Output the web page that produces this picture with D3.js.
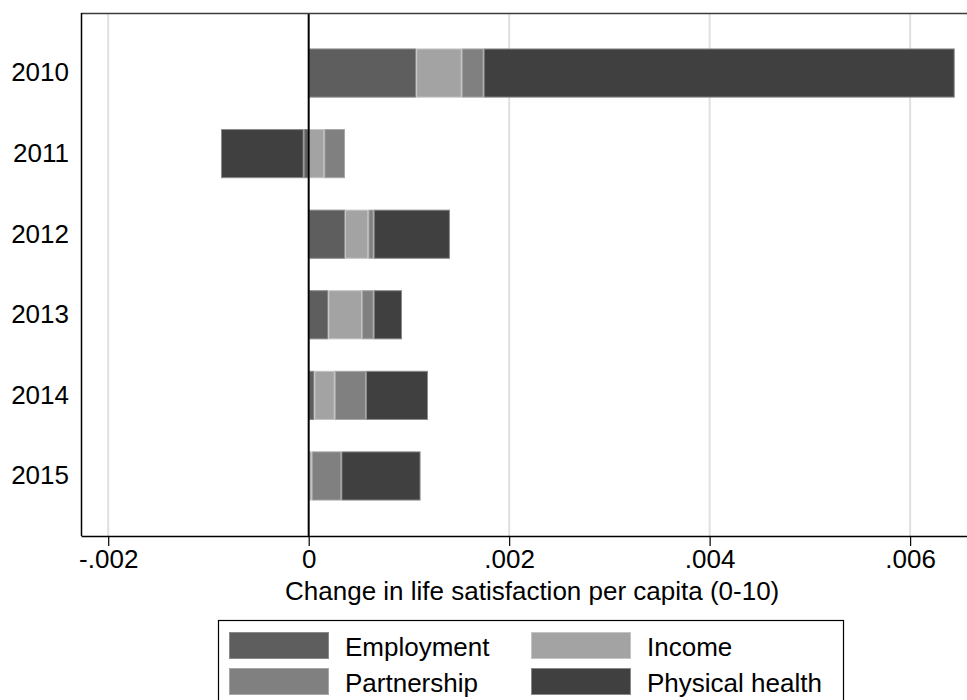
<!DOCTYPE html>
<html>
<head>
<meta charset="utf-8">
<script src="https://cdn.jsdelivr.net/npm/d3@7/dist/d3.min.js"></script>
<style>
  html, body { margin: 0; padding: 0; background: #fff; }
  svg { display: block; font-family: "Liberation Sans", Arial, sans-serif; }
</style>
</head>
<body>
<svg id="chart" width="967" height="700"></svg>
<script>
// Years shown on the vertical axis
const years = ["2010", "2011", "2012", "2013", "2014", "2015"];
// Domains stacked within each bar
const domains = ["Employment", "Income", "Partnership", "Physical health"];
// Contribution of each domain to the yearly change
const employment     = [0.001073, -0.000050, 0.000362, 0.000196, 0.000057, -0.000008];
const income         = [0.000453,  0.000156, 0.000233, 0.000336, 0.000203,  0.000030];
const partnership    = [0.000219,  0.000206, 0.000053, 0.000116, 0.000312,  0.000296];
const physicalHealth = [0.004700, -0.000825, 0.000761, 0.000283, 0.000618,  0.000790];
// Tick values and labels of the horizontal axis
const xTicks = [-0.002, 0, 0.002, 0.004, 0.006];
const xTickLabels = ["-.002", "0", ".002", ".004", ".006"];
const xTitle = "Change in life satisfaction per capita (0-10)";

const colors = ["#5e5e5e", "#a3a3a3", "#808080", "#404040"];
const strokes = ["#8a8a8a", "#c4c4c4", "#a6a6a6", "#8a8a8a"];

const rows = years.map((yr, i) => ({
  year: yr,
  "Employment": employment[i],
  "Income": income[i],
  "Partnership": partnership[i],
  "Physical health": physicalHealth[i]
}));

const svg = d3.select("#chart");
const plotLeft = 81, plotRight = 967, plotTop = 13, plotBottom = 536;
const font = "'Liberation Sans', Arial, sans-serif";

const x = d3.scaleLinear()
  .domain([-0.0022715, 0.0065675])
  .range([plotLeft, plotRight]);

const y = d3.scaleBand()
  .domain(years)
  .range([plotTop, plotBottom])
  .paddingInner(0.39)
  .paddingOuter(0.44);

// Vertical grid lines
svg.append("g")
  .selectAll("line")
  .data(xTicks.filter(d => d !== 0))
  .join("line")
  .attr("x1", d => x(d)).attr("x2", d => x(d))
  .attr("y1", plotTop).attr("y2", plotBottom)
  .attr("stroke", "#e0e0e0")
  .attr("stroke-width", 2);

// Stacked bars: positive parts to the right of zero, negative parts to the left
const series = d3.stack()
  .keys(domains)
  .offset(d3.stackOffsetDiverging)(rows);

svg.append("g")
  .selectAll("g")
  .data(series)
  .join("g")
  .attr("fill", (d, i) => colors[i])
  .attr("stroke", (d, i) => strokes[i])
  .attr("stroke-width", 1)
  .selectAll("rect")
  .data(d => d)
  .join("rect")
  .attr("x", d => x(Math.min(d[0], d[1])) + 0.5)
  .attr("width", d => Math.max(0, Math.abs(x(d[1]) - x(d[0])) - 1))
  .attr("y", d => y(d.data.year) + 0.5)
  .attr("height", y.bandwidth() - 1);

// Zero reference line
svg.append("line")
  .attr("x1", x(0)).attr("x2", x(0))
  .attr("y1", plotTop).attr("y2", plotBottom)
  .attr("stroke", "#000")
  .attr("stroke-width", 2);

// Plot frame: top edge
svg.append("line")
  .attr("x1", plotLeft).attr("x2", plotRight)
  .attr("y1", plotTop + 0.5).attr("y2", plotTop + 0.5)
  .attr("stroke", "#3c3c3c").attr("stroke-width", 1.5);

// X axis
const xAxis = d3.axisBottom(x)
  .tickValues(xTicks)
  .tickFormat((d, i) => xTickLabels[i])
  .tickSize(10)
  .tickPadding(4)
  .tickSizeOuter(0);

const gx = svg.append("g")
  .attr("transform", `translate(0,${plotBottom})`)
  .call(xAxis);
gx.select(".domain").attr("stroke", "#000").attr("stroke-width", 1.5);
gx.selectAll(".tick line").attr("stroke", "#000").attr("stroke-width", 1.2);
gx.selectAll(".tick text")
  .attr("fill", "#000")
  .style("font-size", "26px")
  .style("font-family", font);

// Y axis (labels only)
const yAxis = d3.axisLeft(y).tickSize(0).tickPadding(12);
const gy = svg.append("g")
  .attr("transform", `translate(${plotLeft},0)`)
  .call(yAxis);
gy.select(".domain").attr("stroke", "#000").attr("stroke-width", 1.5)
  .attr("d", `M0.5,${plotTop}V${plotBottom}`);
gy.selectAll(".tick text")
  .attr("fill", "#000")
  .style("font-size", "26px")
  .style("font-family", font);

// Axis title
svg.append("text")
  .attr("x", (x(-0.002) + x(0.006)) / 2 + 23)
  .attr("y", 600)
  .attr("text-anchor", "middle")
  .style("font-size", "26px")
  .style("font-family", font)
  .attr("fill", "#000")
  .text(xTitle);

// Legend
const legend = svg.append("g");
legend.append("rect")
  .attr("x", 218.5).attr("y", 620.5)
  .attr("width", 625).attr("height", 100)
  .attr("fill", "#fff")
  .attr("stroke", "#000").attr("stroke-width", 1.2);

const legendPos = [
  { col: 0, row: 0 }, { col: 1, row: 0 },
  { col: 0, row: 1 }, { col: 1, row: 1 }
];
domains.forEach((name, i) => {
  const p = legendPos[i];
  const lx = 229 + p.col * 302;
  const ly = 632 + p.row * 36;
  legend.append("rect")
    .attr("x", lx + 0.5).attr("y", ly + 0.5)
    .attr("width", 99).attr("height", 26)
    .attr("fill", colors[i])
    .attr("stroke", strokes[i]);
  legend.append("text")
    .attr("x", lx + 116)
    .attr("y", ly + 15)
    .attr("dy", "0.35em")
    .style("font-size", "26px")
    .style("font-family", font)
    .attr("fill", "#000")
    .text(name);
});
</script>
</body>
</html>
